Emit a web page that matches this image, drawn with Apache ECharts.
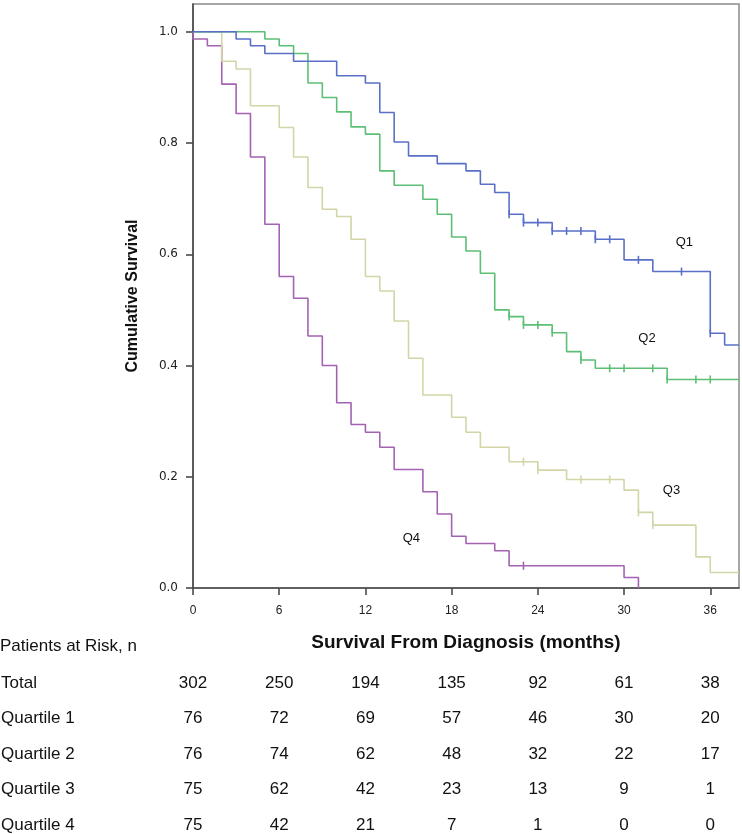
<!DOCTYPE html>
<html>
<head>
<meta charset="utf-8">
<script src="https://cdn.jsdelivr.net/npm/echarts@6/dist/echarts.min.js"></script>
<style>
html,body{margin:0;padding:0;background:#fff;}
#chart{width:742px;height:834px;}
</style>
</head>
<body>
<div id="chart"></div>
<script>
// ---------- DATA ----------
const monthTicks = [0, 6, 12, 18, 24, 30, 36];
const survTicks = [0, 0.2, 0.4, 0.6, 0.8, 1.0];

// Kaplan-Meier step points (time in months, cumulative survival)
const q1Time = [0, 3, 4, 5, 7, 10, 12, 13, 14, 15, 17, 19, 20, 21, 22, 23, 25, 28, 30, 32, 36, 37, 38];
const q1Surv = [1.0, 0.987, 0.975, 0.961, 0.947, 0.921, 0.908, 0.855, 0.802, 0.777, 0.763, 0.750, 0.726, 0.711, 0.672, 0.657, 0.642, 0.627, 0.590, 0.569, 0.458, 0.437, 0.437];
const q1CensTime = [22, 23, 24, 25, 26, 27, 28, 29, 31, 34, 36];
const q1CensSurv = [0.672, 0.657, 0.657, 0.642, 0.642, 0.642, 0.627, 0.627, 0.590, 0.569, 0.458];

const q2Time = [0, 5, 6, 7, 8, 9, 10, 11, 12, 13, 14, 16, 17, 18, 19, 20, 21, 22, 23, 25, 26, 27, 28, 33, 38];
const q2Surv = [1.0, 0.987, 0.975, 0.961, 0.908, 0.882, 0.856, 0.829, 0.816, 0.750, 0.724, 0.699, 0.672, 0.631, 0.606, 0.566, 0.500, 0.488, 0.473, 0.459, 0.425, 0.410, 0.395, 0.375, 0.375];
const q2CensTime = [22, 23, 24, 25, 27, 29, 30, 32, 33, 35, 36];
const q2CensSurv = [0.488, 0.473, 0.473, 0.459, 0.410, 0.395, 0.395, 0.395, 0.375, 0.375, 0.375];

const q3Time = [0, 2, 3, 4, 6, 7, 8, 9, 10, 11, 12, 13, 14, 15, 16, 18, 19, 20, 22, 24, 26, 30, 31, 32, 35, 36, 38];
const q3Surv = [1.0, 0.947, 0.933, 0.867, 0.828, 0.775, 0.720, 0.681, 0.668, 0.627, 0.560, 0.534, 0.480, 0.413, 0.347, 0.307, 0.280, 0.253, 0.227, 0.212, 0.195, 0.176, 0.136, 0.113, 0.056, 0.028, 0.028];
const q3CensTime = [23, 24, 27, 29, 31, 32];
const q3CensSurv = [0.227, 0.212, 0.195, 0.195, 0.136, 0.113];

const q4Time = [0, 0, 1, 2, 3, 4, 5, 6, 7, 8, 9, 10, 11, 12, 13, 14, 16, 17, 18, 19, 21, 22, 30, 31];
const q4Surv = [1.0, 0.987, 0.975, 0.906, 0.853, 0.775, 0.654, 0.560, 0.521, 0.453, 0.400, 0.333, 0.294, 0.280, 0.253, 0.213, 0.173, 0.133, 0.093, 0.080, 0.067, 0.040, 0.019, 0.0];
const q4CensTime = [23];
const q4CensSurv = [0.040];

const seriesNames = ['Q1', 'Q2', 'Q3', 'Q4'];
// curve label anchors (months, survival)
const labelTime = [34.2, 31.6, 33.3, 15.2];
const labelSurv = [0.622, 0.448, 0.176, 0.090];

// Patients at risk table
const riskRowNames = ['Total', 'Quartile 1', 'Quartile 2', 'Quartile 3', 'Quartile 4'];
const riskTotal = [302, 250, 194, 135, 92, 61, 38];
const riskQ1 = [76, 72, 69, 57, 46, 30, 20];
const riskQ2 = [76, 74, 62, 48, 32, 22, 17];
const riskQ3 = [75, 62, 42, 23, 13, 9, 1];
const riskQ4 = [75, 42, 21, 7, 1, 0, 0];

// ---------- STYLE ----------
const SANS = "'Liberation Sans', Arial, sans-serif";
const colors = ['#5a70c8', '#5dbf76', '#d3d5a6', '#a462b2'];
const axisColor = '#4a4a4a';
const X_MAX = 38, Y_MAX = 1.05;

const zip = (a, b) => a.map((v, i) => [v, b[i]]);
const curves = [[q1Time, q1Surv], [q2Time, q2Surv], [q3Time, q3Surv], [q4Time, q4Surv]];
const cens = [[q1CensTime, q1CensSurv], [q2CensTime, q2CensSurv], [q3CensTime, q3CensSurv], [q4CensTime, q4CensSurv]];
const riskRows = [riskTotal, riskQ1, riskQ2, riskQ3, riskQ4];

const series = [];
curves.forEach((c, i) => {
  series.push({
    type: 'line', name: seriesNames[i], xAxisIndex: 0, yAxisIndex: 0,
    step: 'end', data: zip(c[0], c[1]), showSymbol: false, symbol: 'none',
    lineStyle: { color: colors[i], width: 1.6 }, z: 5 - i, animation: false
  });
});
cens.forEach((c, i) => {
  series.push({
    type: 'scatter', xAxisIndex: 0, yAxisIndex: 0,
    data: zip(c[0], c[1]), symbol: 'rect', symbolSize: [1.6, 8],
    itemStyle: { color: colors[i], opacity: 1 }, z: 6, animation: false, silent: true
  });
});
series.push({
  type: 'scatter', xAxisIndex: 0, yAxisIndex: 0,
  data: seriesNames.map((n, i) => ({ name: n, value: [labelTime[i], labelSurv[i]] })),
  symbolSize: 1, itemStyle: { color: 'rgba(0,0,0,0)', opacity: 1 },
  label: { show: true, position: 'inside', formatter: p => p.name, color: '#111',
    fontFamily: SANS, fontSize: 13 },
  labelLayout: { hideOverlap: false },
  z: 7, animation: false, silent: true
});
riskRows.forEach((row, r) => {
  series.push({
    type: 'scatter', xAxisIndex: 1, yAxisIndex: 1,
    data: row.map((v, i) => [monthTicks[i], r, v]),
    symbolSize: 1, itemStyle: { color: 'rgba(0,0,0,0)', opacity: 1 },
    label: { show: true, position: 'inside', formatter: p => String(p.data[2]), color: '#111',
      fontFamily: SANS, fontSize: 17 },
    labelLayout: { hideOverlap: false },
    animation: false, silent: true
  });
});

const chart = echarts.init(document.getElementById('chart'), null, { renderer: 'canvas' });
chart.setOption({
  backgroundColor: '#fff',
  animation: false,
  grid: [
    { left: 193, right: 3, top: 4, bottom: 246, show: true, borderColor: '#8a8a8a', borderWidth: 1.5,
      backgroundColor: 'transparent', outerBoundsMode: 'none' },
    { left: 193, right: 3, top: 683, height: 142, outerBoundsMode: 'none' }
  ],
  xAxis: [
    {
      type: 'value', gridIndex: 0, min: 0, max: X_MAX,
      name: 'Survival From Diagnosis (months)', nameLocation: 'middle', nameGap: 45,
      nameTextStyle: { fontFamily: SANS, fontWeight: 'bold', fontSize: 19, color: '#111' },
      axisLine: { show: true, lineStyle: { color: axisColor, width: 1.6 } },
      axisTick: { show: true, length: 7, lineStyle: { color: axisColor, width: 1.6 }, customValues: monthTicks },
      axisLabel: { customValues: monthTicks, margin: 17, fontFamily: SANS, fontSize: 12, color: '#222' },
      splitLine: { show: false }
    },
    {
      type: 'value', gridIndex: 1, min: 0, max: X_MAX, show: false
    }
  ],
  yAxis: [
    {
      type: 'value', gridIndex: 0, min: 0, max: Y_MAX,
      name: 'Cumulative Survival', nameLocation: 'middle', nameGap: 52,
      nameTextStyle: { fontFamily: SANS, fontWeight: 'bold', fontSize: 16, color: '#111' },
      axisLine: { show: true, lineStyle: { color: axisColor, width: 1.6 } },
      axisTick: { show: true, length: 7, lineStyle: { color: axisColor, width: 1.6 }, customValues: survTicks },
      axisLabel: { customValues: survTicks, margin: 15, formatter: v => v.toFixed(1),
        fontFamily: "'DejaVu Sans', Verdana, sans-serif", fontSize: 12, color: '#222' },
      splitLine: { show: false }
    },
    {
      type: 'value', gridIndex: 1, min: 0, max: 4, inverse: true,
      axisLine: { show: false }, axisTick: { show: false }, splitLine: { show: false },
      axisLabel: { customValues: [0, 1, 2, 3, 4], formatter: v => riskRowNames[Math.round(v)],
        align: 'left', margin: 192, fontFamily: SANS, fontSize: 17, color: '#111' }
    }
  ],
  graphic: [
    { type: 'text', x: 0, y: 646, style: { text: 'Patients at Risk, n', fontFamily: SANS, fontSize: 17,
      fill: '#111', verticalAlign: 'middle' } }
  ],
  series: series
});
</script>
</body>
</html>
